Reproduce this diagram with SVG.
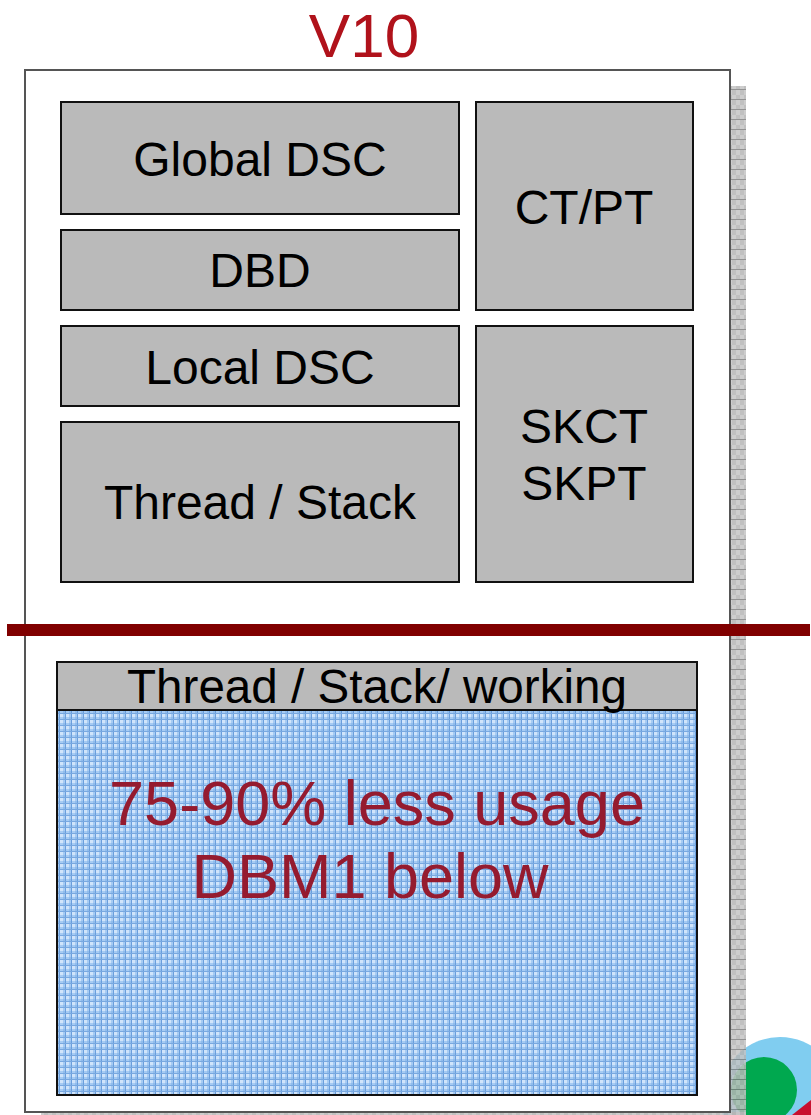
<svg xmlns="http://www.w3.org/2000/svg" width="811" height="1115" viewBox="0 0 811 1115">
<style>
.box{fill:#BABABA;stroke:#111;stroke-width:2}
.t{font-family:"Liberation Sans",Arial,sans-serif;fill:#000;text-anchor:middle}
.r{font-family:"Liberation Sans",Arial,sans-serif;text-anchor:middle}
</style>
<defs>
<pattern id="shadow" width="8" height="10" patternUnits="userSpaceOnUse">
<rect width="8" height="10" fill="#B5B5B5"/>
<rect x="0" y="0" width="4" height="5" fill="#C4C4C4"/>
<rect x="4" y="5" width="4" height="5" fill="#C4C4C4"/>
<line x1="0" y1="9.5" x2="8" y2="9.5" stroke="#808080" stroke-width="1"/>
</pattern>
<pattern id="blue" width="6" height="6" patternUnits="userSpaceOnUse">
<rect width="6" height="6" fill="#A6CBF3"/>
<rect x="0" y="0" width="3" height="3" fill="#D0E4FA"/>
<rect x="3" y="3" width="3" height="3" fill="#90BCEC"/>
<line x1="5.5" y1="0" x2="5.5" y2="6" stroke="#6A9EDC" stroke-width="1"/>
<line x1="0" y1="5.5" x2="6" y2="5.5" stroke="#78A8E0" stroke-width="1"/>
</pattern>
</defs>
<rect width="811" height="1115" fill="#fff"/>
<g id="logo">
<circle cx="780" cy="1097" r="60" fill="#80CDF0"/>
<circle cx="764" cy="1090" r="33" fill="#00A84F"/>
<path d="M811,1100 L811,1115 L792,1115 Z" fill="#C8102E"/>
</g>
<g id="shadow-frame">
<rect x="730" y="86" width="16" height="1029" fill="url(#shadow)" opacity="0.85"/>
<rect x="41" y="1112" width="705" height="3" fill="url(#shadow)" opacity="0.85"/>
</g>
<g id="frame">
<rect x="25" y="70" width="705" height="1042" fill="#fff" stroke="#555" stroke-width="2"/>
</g>
<g id="title"><text class="r" x="364" y="57" font-size="62" fill="#B0121B">V10</text></g>
<g id="global-dsc"><rect class="box" x="61" y="102" width="398" height="112"/><text class="t" x="260" y="176" font-size="48">Global DSC</text></g>
<g id="dbd"><rect class="box" x="61" y="230" width="398" height="80"/><text class="t" x="260" y="287" font-size="48">DBD</text></g>
<g id="ctpt"><rect class="box" x="476" y="102" width="217" height="208"/><text class="t" x="584" y="224" font-size="48">CT/PT</text></g>
<g id="local-dsc"><rect class="box" x="61" y="326" width="398" height="80"/><text class="t" x="260" y="384" font-size="48">Local DSC</text></g>
<g id="thread-stack"><rect class="box" x="61" y="422" width="398" height="160"/><text class="t" x="260" y="519" font-size="48">Thread / Stack</text></g>
<g id="skct"><rect class="box" x="476" y="326" width="217" height="256"/><text class="t" x="584" y="443" font-size="48">SKCT</text><text class="t" x="584" y="500" font-size="48">SKPT</text></g>
<g id="divider"><rect x="7" y="624" width="803" height="12" fill="#800000"/></g>
<g id="working">
<rect x="57" y="710" width="640" height="385" fill="url(#blue)" stroke="#111" stroke-width="2"/>
<rect class="box" x="57" y="662" width="640" height="48"/>
<text class="t" x="377" y="703" font-size="48" textLength="500" lengthAdjust="spacingAndGlyphs">Thread / Stack/ working</text>
<text class="r" x="377" y="825" font-size="63" fill="#951B2F">75-90% less usage</text>
<text class="r" x="370" y="898" font-size="63" fill="#951B2F">DBM1 below</text>
</g>
</svg>
